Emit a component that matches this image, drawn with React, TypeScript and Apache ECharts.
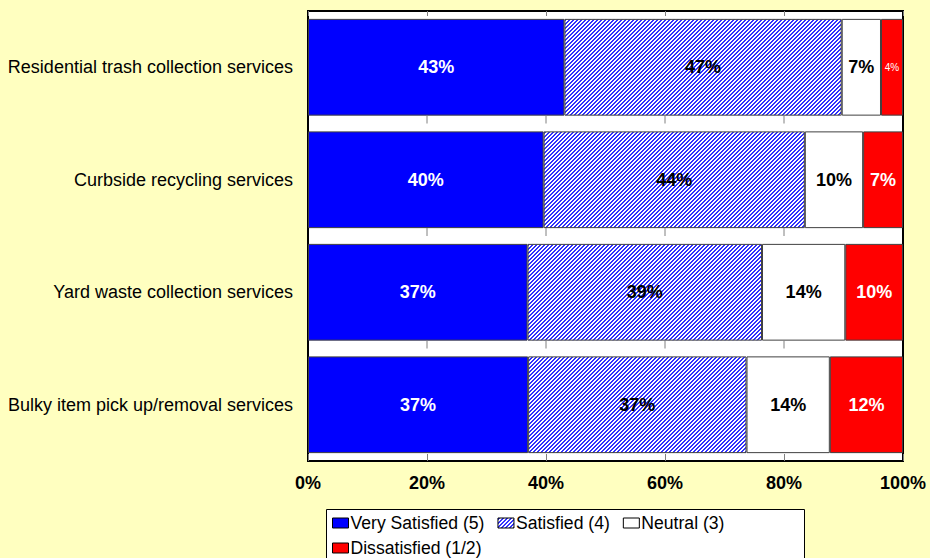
import React, { useEffect, useRef } from "react";
import * as echarts from "echarts";

const categories = [
  "Residential trash collection services",
  "Curbside recycling services",
  "Yard waste collection services",
  "Bulky item pick up/removal services",
];
const seriesNames = ["Very Satisfied (5)", "Satisfied (4)", "Neutral (3)", "Dissatisfied (1/2)"];
const verySatisfied = [43.1, 39.6, 36.9, 37.0];
const satisfied = [46.6, 43.9, 39.4, 36.7];
const neutral = [6.6, 9.8, 14.0, 14.0];
const dissatisfied = [3.7, 6.7, 9.7, 12.3];
const xTicks = [20, 40, 60, 80];

function makeHatch(): HTMLCanvasElement {
  const c = document.createElement("canvas");
  c.width = 4;
  c.height = 4;
  const ctx = c.getContext("2d")!;
  const img = ctx.createImageData(4, 4);
  for (let y = 0; y < 4; y++) {
    for (let x = 0; x < 4; x++) {
      const i = (y * 4 + x) * 4;
      const blue = (x + y) % 4 < 2;
      img.data[i] = blue ? 48 : 255;
      img.data[i + 1] = blue ? 48 : 255;
      img.data[i + 2] = 255;
      img.data[i + 3] = 255;
    }
  }
  ctx.putImageData(img, 0, 0);
  return c;
}

export default function App() {
  const ref = useRef<HTMLDivElement>(null);
  useEffect(() => {
    if (!ref.current) return;
    const chart = echarts.init(ref.current, null, { renderer: "svg" });
    const hatch = { image: makeHatch(), repeat: "repeat", imageWidth: 4, imageHeight: 4 };
    const font = "Arial, 'Liberation Sans', sans-serif";
    const fills: any[] = ["#0000FF", hatch, "#FFFFFF", "#FF0000"];
    const labelColors = ["#FFFFFF", "#000000", "#000000", "#FFFFFF"];
    const values = [verySatisfied, satisfied, neutral, dissatisfied];

    const barSeries = values.map((arr, si) => ({
      name: seriesNames[si],
      type: "bar",
      stack: "total",
      barCategoryGap: "14%",
      itemStyle: { color: fills[si], borderColor: "#404040", borderWidth: 1 },
      label: {
        show: true,
        position: "inside",
        color: labelColors[si],
        fontFamily: font,
        fontWeight: "bold",
        fontSize: 18,
        formatter: (p: any) => Math.round(p.value) + "%",
      },
      data: arr.map((v) =>
        v < 5 ? { value: v, label: { fontSize: 10, fontWeight: "normal" } } : { value: v }
      ),
    }));

    const tickData: number[][] = [];
    for (let b = 0; b < categories.length - 1; b++) {
      for (const t of xTicks) tickData.push([t, b]);
    }

    const legendBase = {
      left: 332,
      padding: 0,
      itemGap: 13,
      itemWidth: 16,
      itemHeight: 10,
      icon: "rect",
      z: 10,
      itemStyle: { borderColor: "#000", borderWidth: 1 },
      textStyle: { color: "#000", fontFamily: font, fontSize: 17.6, padding: [0, 0, 0, -3] },
    };

    chart.setOption({
      animation: false,
      backgroundColor: "#FFFFC0",
      grid: {
        left: 308,
        right: 27,
        top: 11,
        bottom: 97,
        show: true,
        backgroundColor: "#FFFFFF",
        borderColor: "#000000",
        borderWidth: 2,
      },
      xAxis: [
        {
          type: "value",
          min: 0,
          max: 100,
          interval: 20,
          position: "bottom",
          axisLine: { show: false },
          axisTick: { show: true, inside: true, length: 7, lineStyle: { color: "#808080" } },
          splitLine: { show: false },
          axisLabel: {
            formatter: "{value}%",
            color: "#000",
            fontFamily: font,
            fontWeight: "bold",
            fontSize: 18,
            margin: 13,
          },
        },
        {
          type: "value",
          min: 0,
          max: 100,
          interval: 20,
          position: "top",
          axisLine: { show: false },
          axisTick: { show: true, inside: true, length: 5, lineStyle: { color: "#808080" } },
          splitLine: { show: false },
          axisLabel: { show: false },
        },
      ],
      yAxis: {
        type: "category",
        inverse: true,
        data: categories,
        axisLine: { show: false },
        axisTick: { show: false },
        axisLabel: { color: "#000", fontFamily: font, fontSize: 18, margin: 15 },
      },
      legend: [
        { ...legendBase, top: 514, data: seriesNames.slice(0, 3) },
        { ...legendBase, top: 539, data: seriesNames.slice(3) },
      ],
      graphic: [
        {
          type: "rect",
          z: 0,
          shape: { x: 326.5, y: 509.5, width: 478, height: 60 },
          style: { fill: "#FFFFFF", stroke: "#000000", lineWidth: 1 },
        },
      ],
      series: [
        ...barSeries,
        {
          type: "custom",
          silent: true,
          z: 5,
          renderItem: (params: any, api: any) => {
            const pt = api.coord([api.value(0), api.value(1)]);
            const h = api.size([0, 1])[1];
            const y = pt[1] + h / 2;
            return {
              type: "line",
              shape: { x1: pt[0], y1: y - 8, x2: pt[0], y2: y },
              style: { stroke: "#808080", lineWidth: 1 },
            };
          },
          data: tickData,
        },
      ],
    });
    return () => chart.dispose();
  }, []);
  return <div ref={ref} style={{ position: "fixed", left: 0, top: 0, width: 930, height: 558 }} />;
}
